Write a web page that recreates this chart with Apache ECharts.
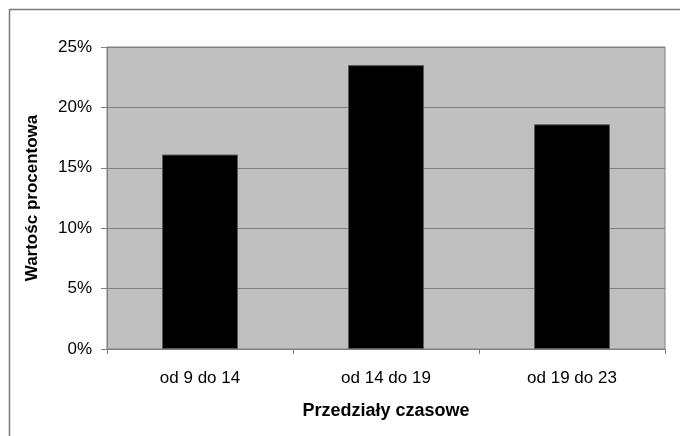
<!DOCTYPE html>
<html>
<head>
<meta charset="utf-8">
<script src="https://cdn.jsdelivr.net/npm/echarts@6/dist/echarts.min.js"></script>
<style>
  html, body { margin: 0; padding: 0; background: #fff; }
  #chart { width: 680px; height: 436px; }
</style>
</head>
<body>
<div id="chart"></div>
<script>
// Share of records per time window (percent)
const categories = ['od 9 do 14', 'od 14 do 19', 'od 19 do 23'];
const values = [16.1, 23.5, 18.6];
const yAxisTitle = 'Wartośc procentowa';
const xAxisTitle = 'Przedziały czasowe';

const font = 'Liberation Sans, Arial, sans-serif';
const gridGray = '#808080';

const chart = echarts.init(document.getElementById('chart'), null, { renderer: 'canvas' });
chart.setOption({
  animation: false,
  backgroundColor: '#ffffff',
  graphic: [{
    type: 'rect',
    shape: { x: 9.5, y: 9.5, width: 720, height: 480 },
    style: { fill: 'none', stroke: '#7a7a7a', lineWidth: 1.5 },
    z: 100
  }],
  grid: {
    left: 107, right: 15, top: 47, bottom: 87,
    show: true,
    backgroundColor: '#c0c0c0',
    borderColor: gridGray,
    borderWidth: 1
  },
  xAxis: {
    type: 'category',
    data: categories,
    name: xAxisTitle,
    nameLocation: 'middle',
    nameGap: 53,
    nameTextStyle: { fontFamily: font, fontSize: 18, fontWeight: 'bold', color: '#000' },
    axisLine: { lineStyle: { color: gridGray, width: 1 } },
    axisTick: { show: true, alignWithLabel: false, length: 5, lineStyle: { color: gridGray } },
    axisLabel: { margin: 21, fontFamily: font, fontSize: 17, color: '#000' },
    splitLine: { show: false }
  },
  yAxis: {
    type: 'value',
    min: 0, max: 25, interval: 5,
    name: yAxisTitle,
    nameLocation: 'middle',
    nameGap: 66,
    nameTextStyle: { fontFamily: font, fontSize: 17, fontWeight: 'bold', color: '#000' },
    axisLine: { show: true, lineStyle: { color: gridGray, width: 1 } },
    axisTick: { show: true, length: 6, lineStyle: { color: gridGray } },
    axisLabel: { margin: 15, fontFamily: font, fontSize: 17, color: '#000', formatter: '{value}%' },
    splitLine: { show: true, lineStyle: { color: gridGray, width: 1 } }
  },
  series: [{
    type: 'bar',
    data: values,
    barWidth: 76,
    itemStyle: { color: '#000000', borderColor: '#5a5a5a', borderWidth: 1 }
  }]
});
</script>
</body>
</html>
